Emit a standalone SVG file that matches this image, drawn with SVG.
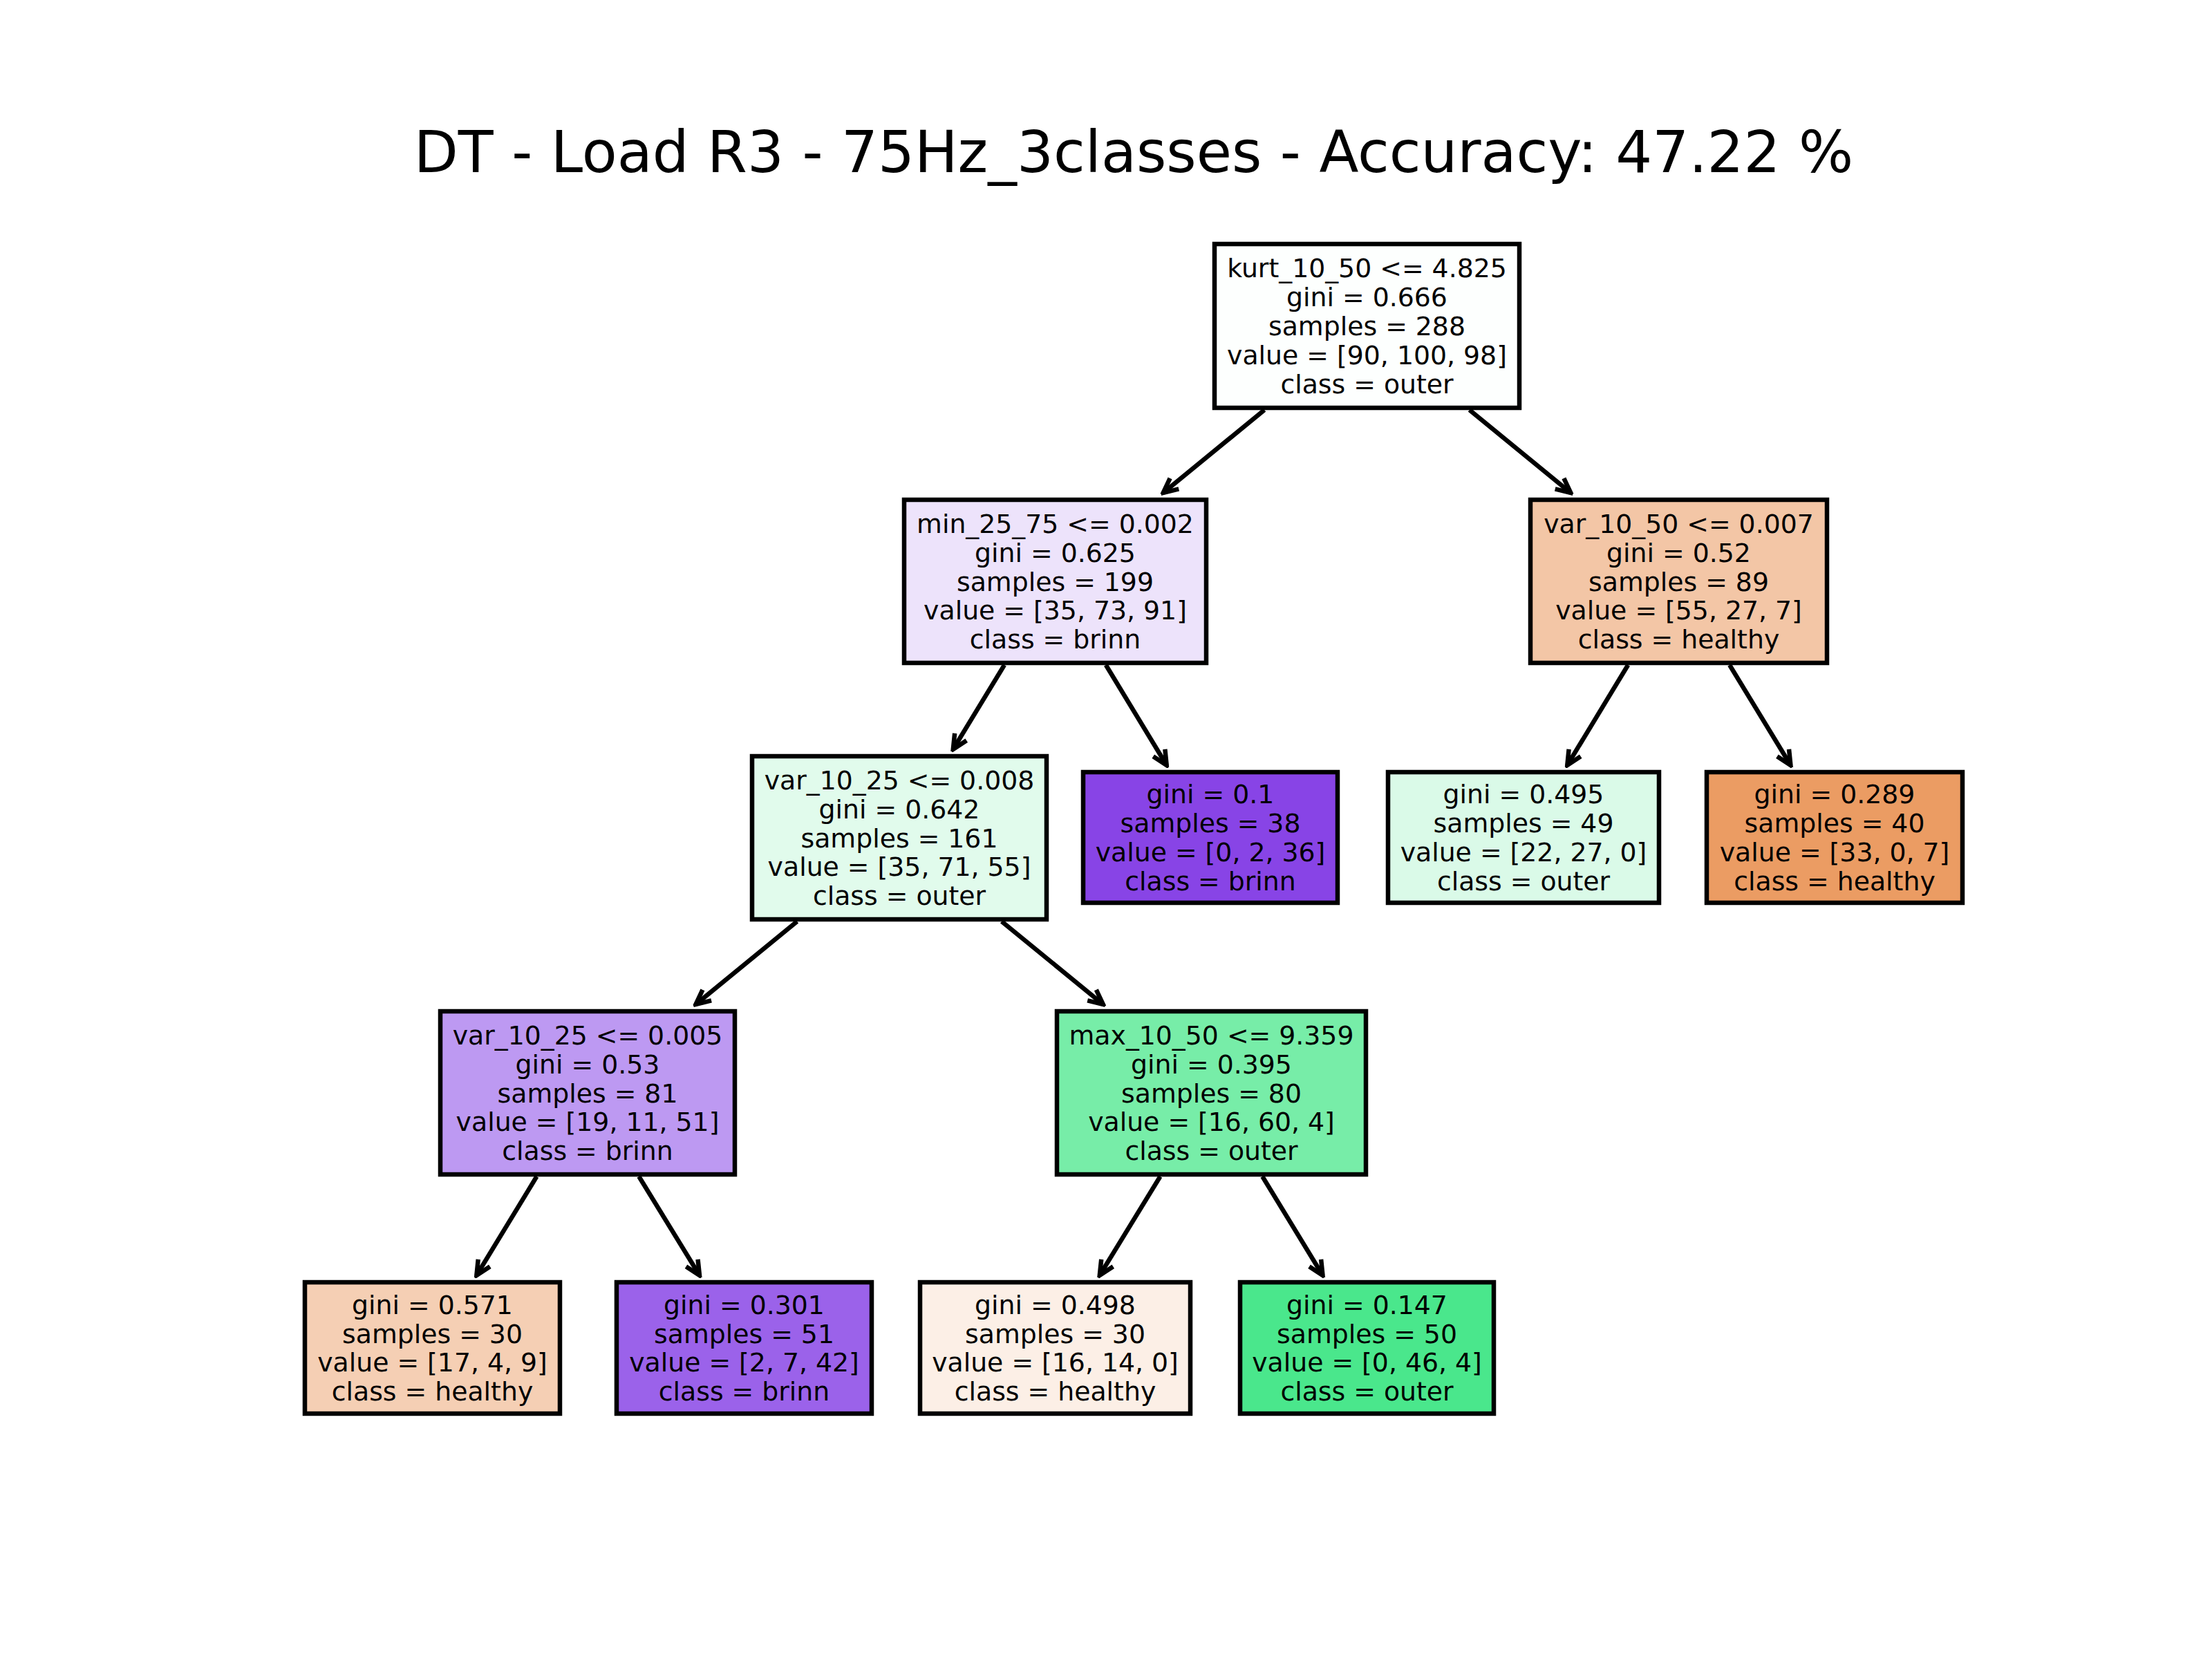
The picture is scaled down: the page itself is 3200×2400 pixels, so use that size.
<svg xmlns="http://www.w3.org/2000/svg" width="3200" height="2400" viewBox="0 0 3200 2400">
<style>
.box{stroke:#000;stroke-width:6.5}
.t{font-family:"DejaVu Sans",Verdana,sans-serif;font-size:37.8px;fill:#000;text-anchor:middle}
.title{font-family:"DejaVu Sans",Verdana,sans-serif;font-size:83.3px;fill:#000;text-anchor:middle}
.e{stroke:#000;stroke-width:6.5;fill:none;marker-end:url(#ah)}
</style>
<defs>
<marker id="ah" markerUnits="userSpaceOnUse" viewBox="-30 -15 34 30" refX="0" refY="0" markerWidth="34" markerHeight="30" orient="auto">
<path d="M-21,-10 L0,0 L-21,10" fill="none" stroke="#000" stroke-width="6.5" stroke-linejoin="miter" stroke-linecap="butt"/>
</marker>
</defs>
<rect width="3200" height="2400" fill="#fff"/>
<text class="title" x="1640" y="249">DT - Load R3 - 75Hz_3classes - Accuracy: 47.22 %</text>
<g id="connectors">
<line class="e" x1="1829.2" y1="593" x2="1682.7" y2="713"/>
<line class="e" x1="2125.8" y1="593" x2="2272.3" y2="713"/>
<line class="e" x1="1453" y1="962" x2="1378.8" y2="1084"/>
<line class="e" x1="1599.8" y1="962" x2="1687.7" y2="1107"/>
<line class="e" x1="2355.2" y1="962" x2="2267.3" y2="1107"/>
<line class="e" x1="2502.1" y1="962" x2="2590.4" y2="1107"/>
<line class="e" x1="1153.1" y1="1333" x2="1006.5" y2="1453"/>
<line class="e" x1="1449.1" y1="1333" x2="1595.8" y2="1453"/>
<line class="e" x1="776.4" y1="1702" x2="689.4" y2="1845"/>
<line class="e" x1="924.3" y1="1702" x2="1012" y2="1845"/>
<line class="e" x1="1678.4" y1="1702" x2="1590.8" y2="1845"/>
<line class="e" x1="1826.3" y1="1702" x2="1913.5" y2="1845"/>
</g>
<g id="n0">
<rect class="box" x="1757" y="353" width="441" height="237" fill="#fdfffe"/>
<text class="t" x="1977.5" y="401.4">kurt_10_50 &lt;= 4.825</text>
<text class="t" x="1977.5" y="443.2">gini = 0.666</text>
<text class="t" x="1977.5" y="485">samples = 288</text>
<text class="t" x="1977.5" y="526.8">value = [90, 100, 98]</text>
<text class="t" x="1977.5" y="568.6">class = outer</text>
</g>
<g id="n1">
<rect class="box" x="1308" y="723" width="437" height="236" fill="#ede3fb"/>
<text class="t" x="1526.5" y="770.9">min_25_75 &lt;= 0.002</text>
<text class="t" x="1526.5" y="812.7">gini = 0.625</text>
<text class="t" x="1526.5" y="854.5">samples = 199</text>
<text class="t" x="1526.5" y="896.3">value = [35, 73, 91]</text>
<text class="t" x="1526.5" y="938.1">class = brinn</text>
</g>
<g id="n2">
<rect class="box" x="1088" y="1094" width="426" height="236" fill="#e1fbec"/>
<text class="t" x="1301" y="1141.9">var_10_25 &lt;= 0.008</text>
<text class="t" x="1301" y="1183.7">gini = 0.642</text>
<text class="t" x="1301" y="1225.5">samples = 161</text>
<text class="t" x="1301" y="1267.3">value = [35, 71, 55]</text>
<text class="t" x="1301" y="1309.1">class = outer</text>
</g>
<g id="n3">
<rect class="box" x="637" y="1463" width="426" height="236" fill="#bd99f2"/>
<text class="t" x="850" y="1510.9">var_10_25 &lt;= 0.005</text>
<text class="t" x="850" y="1552.7">gini = 0.53</text>
<text class="t" x="850" y="1594.5">samples = 81</text>
<text class="t" x="850" y="1636.3">value = [19, 11, 51]</text>
<text class="t" x="850" y="1678.1">class = brinn</text>
</g>
<g id="n4">
<rect class="box" x="441" y="1855" width="369" height="190" fill="#f5cfb4"/>
<text class="t" x="625.5" y="1900.8">gini = 0.571</text>
<text class="t" x="625.5" y="1942.6">samples = 30</text>
<text class="t" x="625.5" y="1984.4">value = [17, 4, 9]</text>
<text class="t" x="625.5" y="2026.2">class = healthy</text>
</g>
<g id="n5">
<rect class="box" x="892" y="1855" width="369" height="190" fill="#9b62ea"/>
<text class="t" x="1076.5" y="1900.8">gini = 0.301</text>
<text class="t" x="1076.5" y="1942.6">samples = 51</text>
<text class="t" x="1076.5" y="1984.4">value = [2, 7, 42]</text>
<text class="t" x="1076.5" y="2026.2">class = brinn</text>
</g>
<g id="n6">
<rect class="box" x="1529" y="1463" width="447" height="236" fill="#77eda8"/>
<text class="t" x="1752.5" y="1510.9">max_10_50 &lt;= 9.359</text>
<text class="t" x="1752.5" y="1552.7">gini = 0.395</text>
<text class="t" x="1752.5" y="1594.5">samples = 80</text>
<text class="t" x="1752.5" y="1636.3">value = [16, 60, 4]</text>
<text class="t" x="1752.5" y="1678.1">class = outer</text>
</g>
<g id="n7">
<rect class="box" x="1331" y="1855" width="391" height="190" fill="#fcefe6"/>
<text class="t" x="1526.5" y="1900.8">gini = 0.498</text>
<text class="t" x="1526.5" y="1942.6">samples = 30</text>
<text class="t" x="1526.5" y="1984.4">value = [16, 14, 0]</text>
<text class="t" x="1526.5" y="2026.2">class = healthy</text>
</g>
<g id="n8">
<rect class="box" x="1794" y="1855" width="367" height="190" fill="#4ae78c"/>
<text class="t" x="1977.5" y="1900.8">gini = 0.147</text>
<text class="t" x="1977.5" y="1942.6">samples = 50</text>
<text class="t" x="1977.5" y="1984.4">value = [0, 46, 4]</text>
<text class="t" x="1977.5" y="2026.2">class = outer</text>
</g>
<g id="n9">
<rect class="box" x="1567" y="1117" width="368" height="189" fill="#8844e6"/>
<text class="t" x="1751" y="1162.3">gini = 0.1</text>
<text class="t" x="1751" y="1204.1">samples = 38</text>
<text class="t" x="1751" y="1245.9">value = [0, 2, 36]</text>
<text class="t" x="1751" y="1287.7">class = brinn</text>
</g>
<g id="n10">
<rect class="box" x="2214" y="723" width="429" height="236" fill="#f3c6a6"/>
<text class="t" x="2428.5" y="770.9">var_10_50 &lt;= 0.007</text>
<text class="t" x="2428.5" y="812.7">gini = 0.52</text>
<text class="t" x="2428.5" y="854.5">samples = 89</text>
<text class="t" x="2428.5" y="896.3">value = [55, 27, 7]</text>
<text class="t" x="2428.5" y="938.1">class = healthy</text>
</g>
<g id="n11">
<rect class="box" x="2008" y="1117" width="392" height="189" fill="#dafae8"/>
<text class="t" x="2204" y="1162.3">gini = 0.495</text>
<text class="t" x="2204" y="1204.1">samples = 49</text>
<text class="t" x="2204" y="1245.9">value = [22, 27, 0]</text>
<text class="t" x="2204" y="1287.7">class = outer</text>
</g>
<g id="n12">
<rect class="box" x="2469" y="1117" width="370" height="189" fill="#eb9c63"/>
<text class="t" x="2654" y="1162.3">gini = 0.289</text>
<text class="t" x="2654" y="1204.1">samples = 40</text>
<text class="t" x="2654" y="1245.9">value = [33, 0, 7]</text>
<text class="t" x="2654" y="1287.7">class = healthy</text>
</g>
</svg>
